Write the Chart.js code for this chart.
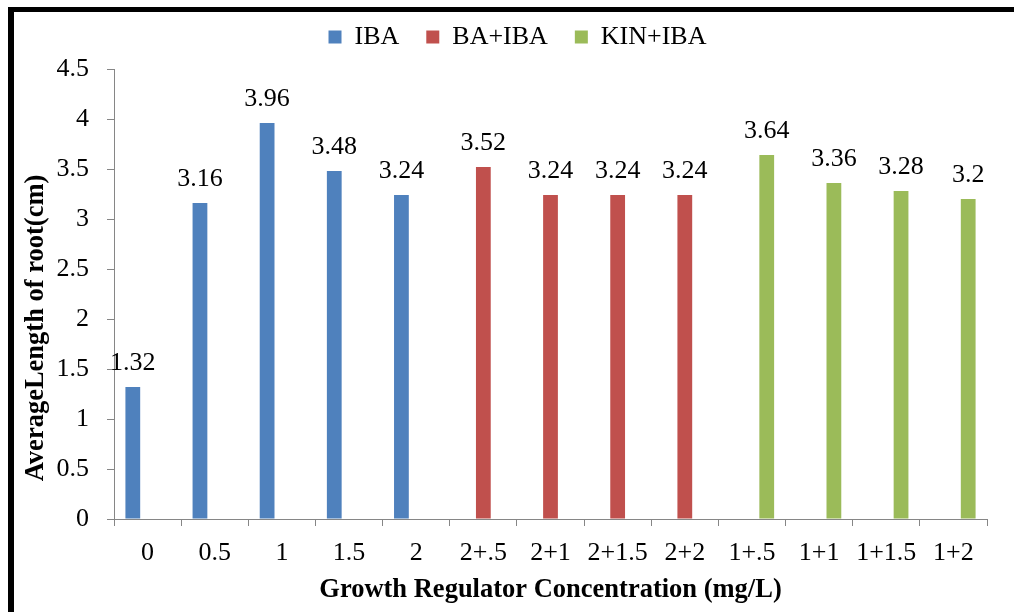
<!DOCTYPE html>
<html>
<head>
<meta charset="utf-8">
<title>Root length by growth regulator</title>
<script src="https://cdn.jsdelivr.net/npm/chart.js@4.4.1/dist/chart.umd.min.js"></script>
<style>
    html, body { margin: 0; padding: 0; background: #fff; overflow: hidden; }
    #wrap { position: relative; width: 1014px; height: 612px; }
    #frame {
        position: absolute; left: 8px; top: 7px; right: -20px; bottom: -20px;
        border-top: 5px solid #000; border-left: 6px solid #000;
        pointer-events: none;
    }
</style>
</head>
<body>
<div id="wrap">
    <canvas id="root-chart" width="1014" height="612"></canvas>
    <div id="frame"></div>
</div>
<script>
const categories = ['0', '0.5', '1', '1.5', '2', '2+.5', '2+1', '2+1.5', '2+2', '1+.5', '1+1', '1+1.5', '1+2'];
const ibaValues = [1.32, 3.16, 3.96, 3.48, 3.24, null, null, null, null, null, null, null, null];
const baIbaValues = [null, null, null, null, null, 3.52, 3.24, 3.24, 3.24, null, null, null, null];
const kinIbaValues = [null, null, null, null, null, null, null, null, null, 3.64, 3.36, 3.28, 3.2];
const yTicks = [0, 0.5, 1, 1.5, 2, 2.5, 3, 3.5, 4, 4.5];

const serif = 'Liberation Serif, Times New Roman, serif';
const axisGray = '#868686';

// extra room between the legend and the plot
const legendGap = {
    id: 'legendGap',
    beforeInit(chart) {
        const fit = chart.legend.fit;
        chart.legend.fit = function () {
            fit.bind(chart.legend)();
            this.height += 9;
        };
    }
};

// value labels above each bar
const valueLabels = {
    id: 'valueLabels',
    afterDatasetsDraw(chart) {
        const ctx = chart.ctx;
        ctx.save();
        ctx.font = '26px ' + serif;
        ctx.fillStyle = '#000';
        ctx.textAlign = 'center';
        ctx.textBaseline = 'alphabetic';
        chart.data.datasets.forEach((ds, i) => {
            chart.getDatasetMeta(i).data.forEach((bar, j) => {
                const v = ds.data[j];
                if (v === null) return;
                ctx.fillText(String(v), bar.x, bar.y - 17);
            });
        });
        ctx.restore();
    }
};

// rotated y axis title, sits a bit below the middle of the axis
const yTitle = {
    id: 'yTitle',
    afterDraw(chart) {
        const ctx = chart.ctx;
        const y = chart.scales.y;
        ctx.save();
        ctx.translate(36, (y.top + y.bottom) / 2 + 34);
        ctx.rotate(-Math.PI / 2);
        ctx.font = 'bold 26.5px ' + serif;
        ctx.fillStyle = '#000';
        ctx.textAlign = 'center';
        ctx.textBaseline = 'middle';
        ctx.fillText('AverageLength of root(cm)', 0, 0);
        ctx.restore();
    }
};

new Chart(document.getElementById('root-chart').getContext('2d'), {
    type: 'bar',
    data: {
        labels: categories,
        datasets: [{
            label: 'IBA',
            data: ibaValues,
            backgroundColor: '#4F81BD'
        }, {
            label: 'BA+IBA',
            data: baIbaValues,
            backgroundColor: '#C0504D'
        }, {
            label: 'KIN+IBA',
            data: kinIbaValues,
            backgroundColor: '#9BBB59'
        }]
    },
    options: {
        responsive: false,
        animation: false,
        categoryPercentage: 0.66,
        barPercentage: 1.0,
        layout: {
            padding: { left: 48, right: 27, top: -3, bottom: 8.5 }
        },
        plugins: {
            tooltip: { enabled: false },
            legend: {
                position: 'top',
                labels: {
                    boxWidth: 13,
                    boxHeight: 13,
                    padding: 27,
                    color: '#000',
                    font: { family: serif, size: 26 }
                }
            }
        },
        scales: {
            x: {
                grid: {
                    offset: true,
                    drawOnChartArea: false,
                    tickLength: 7,
                    color: axisGray
                },
                border: { color: axisGray },
                ticks: {
                    autoSkip: false,
                    maxRotation: 0,
                    padding: 14,
                    color: '#000',
                    font: { family: serif, size: 26, lineHeight: 1 }
                },
                title: {
                    display: true,
                    text: 'Growth Regulator Concentration (mg/L)',
                    color: '#000',
                    font: { family: serif, size: 26.5, weight: 'bold', lineHeight: 1 },
                    padding: { top: -3, bottom: 0 }
                }
            },
            y: {
                min: 0,
                max: 4.5,
                afterBuildTicks(scale) {
                    scale.ticks = yTicks.map(v => ({ value: v }));
                },
                afterFit(scale) {
                    scale.width = 66;
                },
                grid: {
                    drawOnChartArea: false,
                    tickLength: 7,
                    color: axisGray
                },
                border: { color: axisGray },
                ticks: {
                    padding: 18,
                    color: '#000',
                    font: { family: serif, size: 26 },
                    callback: v => String(v)
                }
            }
        }
    },
    plugins: [legendGap, valueLabels, yTitle]
});
</script>
</body>
</html>
